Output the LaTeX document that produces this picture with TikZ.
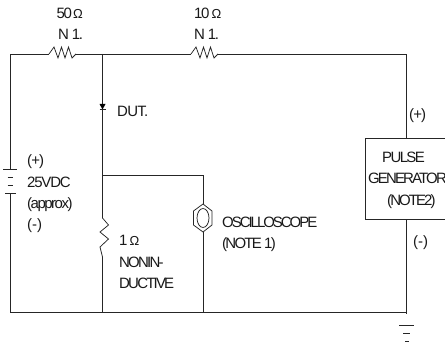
\documentclass[tikz,border=0pt]{standalone}
\usepackage{fontspec}
\setmainfont{Liberation Sans}
\newcommand{\tight}[1]{\addfontfeature{LetterSpace=#1}}
\newcommand{\ohm}{{\fontsize{13}{13}\selectfont Ω}}
\tikzset{
  wire/.style={line width=0.75pt,black!85},
  lbl/.style={anchor=base west,inner sep=0pt,font=\fontsize{15}{15}\selectfont,text=black!90}
}
\begin{document}
\begin{tikzpicture}[x=1pt,y=-1pt]
\useasboundingbox (0,0) rectangle (445,345);
\clip (0,0) rectangle (445,345);
% junctions and ends
\coordinate (tl) at (10,54);
\coordinate (r1a) at (49,54);
\coordinate (r1b) at (76,54);
\coordinate (jt) at (102.5,54);
\coordinate (r2a) at (191,54);
\coordinate (r2b) at (218,54);
\coordinate (tr) at (406.5,54);
\coordinate (bl) at (10,312);
\coordinate (jb) at (102.5,312);
\coordinate (sb) at (203,312);
\coordinate (br) at (406.5,312);
\coordinate (jm) at (102.5,175);
\coordinate (sm) at (203,175);
\coordinate (batt) at (10,169);
\coordinate (battb) at (10,193);
\coordinate (r3a) at (102.5,218);
\coordinate (r3b) at (102.5,257);
\coordinate (pgt) at (406.5,138);
\coordinate (pgb) at (406.5,219);
% scope
\node[inner sep=0pt,minimum width=18pt,minimum height=28pt,shape=rectangle] (scope) at (203,218) {};
\draw[wire] (203,204) -- (212,211) -- (212,225) -- (203,232) -- (193.5,225) -- (193.5,211) -- cycle;
\draw[wire] (203,218) ellipse (6pt and 9.5pt);
% wires
\draw[wire] (batt) -- (tl) -- (r1a);
\draw[wire] (r1b) -- (r2a);
\draw[wire] (r2b) -- (tr) -- (pgt);
\draw[wire] (jt) -- (jm) -- (r3a);
\draw[wire] (jm) -- (sm) -- (scope.north);
\draw[wire] (r3b) -- (jb);
\draw[wire] (scope.south) -- (sb);
\draw[wire] (battb) -- (bl) -- (br) -- (pgb);
\draw[wire] (br) -- (406.5,314);
% resistors
\draw[wire] (r1a) -- (54,47) -- (58,58) -- (61.5,47) -- (65,58) -- (68.5,47) -- (72,58) -- (r1b);
\draw[wire] (r2a) -- (196,47) -- (200,58) -- (203.5,47) -- (207,58) -- (210.5,47) -- (214,58) -- (r2b);
\draw[wire] (r3a) -- (108.5,225) -- (100,232) -- (108.5,239) -- (100,247) -- (r3b);
% diode
\fill[black] (99.5,104) -- (105.5,104) -- (102.5,109.5) -- cycle;
\draw[wire,line width=1pt] (99.5,110) -- (105.5,110);
% battery
\draw[wire] (3,169) -- (17,169);
\draw[wire] (7.5,177) -- (12.5,177);
\draw[wire] (7.5,185) -- (12.5,185);
\draw[wire] (5,193) -- (16,193);
% ground
\draw[wire] (399,325) -- (414,325);
\draw[wire] (403,333) -- (410,333);
\draw[wire] (405,341) -- (408.5,341);
% generator box
\draw[wire] (446,138) -- (365,138) -- (365,219) -- (446,219);
% labels
\node[lbl] (l50) at (56.5,19) {\tight{-9}50\hspace{1pt}\ohm};
\node[lbl] (n1a) at (58,40) {\tight{-9}N 1.};
\node[lbl] (l10) at (194,19) {\tight{-9}10\hspace{2pt}\ohm};
\node[lbl] (n1b) at (194,40) {\tight{-9}N 1.};
\node[lbl] (dut) at (117,117) {\tight{-5}DUT.};
\node[lbl] (bp) at (27,165) {\tight{-6}(+)};
\node[lbl] (bv) at (27,187) {\tight{-8}25VDC};
\node[lbl] (ba) at (27,208) {\tight{-10}(approx)};
\node[lbl] (bm) at (27,229) {(-)};
\node[lbl] (l1) at (119,245) {1\hspace{2pt}\ohm};
\node[lbl] (non) at (119,267) {\tight{-12}NONIN-};
\node[lbl] (duc) at (119,288) {\tight{-12}DUCTIVE};
\node[lbl] (osc) at (222,227) {\tight{-13.6}OSCILLOSCOPE};
\node[lbl] (nt1) at (222,248) {\tight{-11.7}(NOTE 1)};
\node[lbl] (pp) at (409,120) {\tight{-6}(+)};
\node[lbl] (pm) at (413,246) {(-)};
\node[lbl] (pu) at (382,162) {\tight{-11}PULSE};
\node[lbl] (ge) at (368,183) {\tight{-12.5}GENERATOR};
\node[lbl] (no) at (387,205) {\tight{-13}(NOTE2)};
\end{tikzpicture}
\end{document}
